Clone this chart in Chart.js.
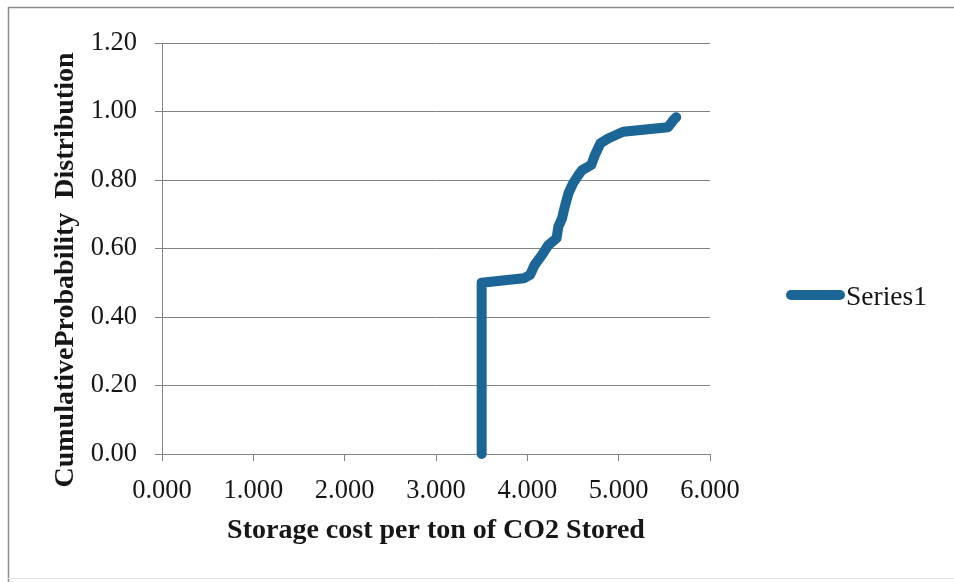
<!DOCTYPE html>
<html>
<head>
<meta charset="utf-8">
<script src="https://cdn.jsdelivr.net/npm/chart.js@4.4.1/dist/chart.umd.min.js"></script>
<style>
  html, body { margin: 0; padding: 0; background: #ffffff; }
  #wrap { width: 954px; height: 582px; position: relative; }
  canvas { display: block; }
</style>
</head>
<body>
<div id="wrap"><canvas id="cdf" width="954" height="582"></canvas></div>
<script>
// Cumulative distribution of storage cost per ton of CO2 stored
const seriesName = 'Series1';
const costPerTon = [3.50, 3.50, 3.96, 4.03, 4.08, 4.16, 4.23, 4.32, 4.34, 4.38, 4.41, 4.45, 4.50, 4.56, 4.60, 4.70, 4.74, 4.80, 4.89, 5.05, 5.54, 5.60, 5.63];
const cumulativeProb = [0.00, 0.50, 0.513, 0.523, 0.552, 0.581, 0.610, 0.630, 0.664, 0.688, 0.722, 0.761, 0.790, 0.815, 0.829, 0.844, 0.873, 0.907, 0.922, 0.941, 0.954, 0.975, 0.983];
const xTickLabels = ['0.000', '1.000', '2.000', '3.000', '4.000', '5.000', '6.000'];
const yTickLabels = ['0.00', '0.20', '0.40', '0.60', '0.80', '1.00', '1.20'];
const xTitle = 'Storage cost per ton of CO2 Stored';
const yTitle = 'CumulativeProbability  Distribution';

const FONT = "'Liberation Serif', 'Times New Roman', serif";
const INK = '#161616';
const GRID = '#828282';
const LINE = '#1b6597';

const points = costPerTon.map((x, i) => ({ x: x, y: cumulativeProb[i] }));

// White page with the thin frame on the top and left edges
const framePlugin = {
  id: 'frame',
  beforeDraw(chart) {
    const ctx = chart.ctx;
    ctx.save();
    ctx.fillStyle = '#ffffff';
    ctx.fillRect(0, 0, chart.width, chart.height);
    ctx.strokeStyle = '#8c8c8c';
    ctx.lineWidth = 1.5;
    ctx.beginPath();
    ctx.moveTo(8, 7.5);
    ctx.lineTo(chart.width, 7.5);
    ctx.moveTo(8.5, 7);
    ctx.lineTo(8.5, chart.height);
    ctx.stroke();
    ctx.strokeStyle = '#e2e2e2';
    ctx.lineWidth = 1;
    ctx.beginPath();
    ctx.moveTo(8, 578.5);
    ctx.lineTo(chart.width, 578.5);
    ctx.stroke();
    ctx.restore();
  }
};

// Vertical value-axis title
const yTitlePlugin = {
  id: 'yTitle',
  afterDraw(chart) {
    const ctx = chart.ctx;
    ctx.save();
    ctx.font = 'bold 28px ' + FONT;
    ctx.fillStyle = INK;
    ctx.textAlign = 'center';
    ctx.textBaseline = 'alphabetic';
    ctx.translate(73, 270);
    ctx.rotate(-Math.PI / 2);
    ctx.fillText(yTitle, 0, 0);
    ctx.restore();
  }
};

// Legend to the right of the plot: a thick rounded line sample and the series name
const legendPlugin = {
  id: 'sideLegend',
  afterDraw(chart) {
    const ctx = chart.ctx;
    const ds = chart.data.datasets[0];
    ctx.save();
    ctx.strokeStyle = ds.borderColor;
    ctx.lineWidth = 10;
    ctx.lineCap = 'round';
    ctx.beginPath();
    ctx.moveTo(791, 295);
    ctx.lineTo(840, 295);
    ctx.stroke();
    ctx.font = '27.5px ' + FONT;
    ctx.fillStyle = INK;
    ctx.textAlign = 'left';
    ctx.textBaseline = 'alphabetic';
    ctx.fillText(ds.label, 846, 305);
    ctx.restore();
  }
};

new Chart(document.getElementById('cdf'), {
  type: 'line',
  data: {
    datasets: [{
      label: seriesName,
      data: points,
      borderColor: LINE,
      backgroundColor: LINE,
      borderWidth: 10,
      borderCapStyle: 'round',
      borderJoinStyle: 'round',
      pointRadius: 0,
      pointHoverRadius: 0,
      tension: 0,
      fill: false,
      clip: 8
    }]
  },
  options: {
    responsive: false,
    animation: false,
    events: [],
    layout: { padding: { left: 0, right: 244, top: 43, bottom: 0 } },
    plugins: {
      legend: { display: false },
      tooltip: { enabled: false }
    },
    scales: {
      x: {
        type: 'linear',
        min: 0,
        max: 6,
        afterFit(scale) { scale.height = 128; },
        ticks: {
          stepSize: 1,
          padding: 14,
          color: INK,
          font: { family: FONT, size: 26.5 },
          maxRotation: 0,
          callback: (v, i) => xTickLabels[i]
        },
        grid: { drawOnChartArea: false, drawTicks: true, tickLength: 7, color: GRID, lineWidth: 1 },
        border: { display: true, color: GRID, width: 1 },
        title: {
          display: true,
          text: xTitle,
          color: INK,
          font: { family: FONT, size: 28, weight: 'bold' },
          padding: { top: 0, bottom: 34 }
        }
      },
      y: {
        type: 'linear',
        min: 0,
        max: 1.2,
        afterFit(scale) { scale.width = 162; },
        ticks: {
          stepSize: 0.2,
          padding: 18,
          color: INK,
          font: { family: FONT, size: 26.5 },
          callback: (v, i) => yTickLabels[i]
        },
        grid: { drawOnChartArea: true, drawTicks: true, tickLength: 7, color: GRID, lineWidth: 1 },
        border: { display: true, color: GRID, width: 1 }
      }
    }
  },
  plugins: [framePlugin, yTitlePlugin, legendPlugin]
});
</script>
</body>
</html>
